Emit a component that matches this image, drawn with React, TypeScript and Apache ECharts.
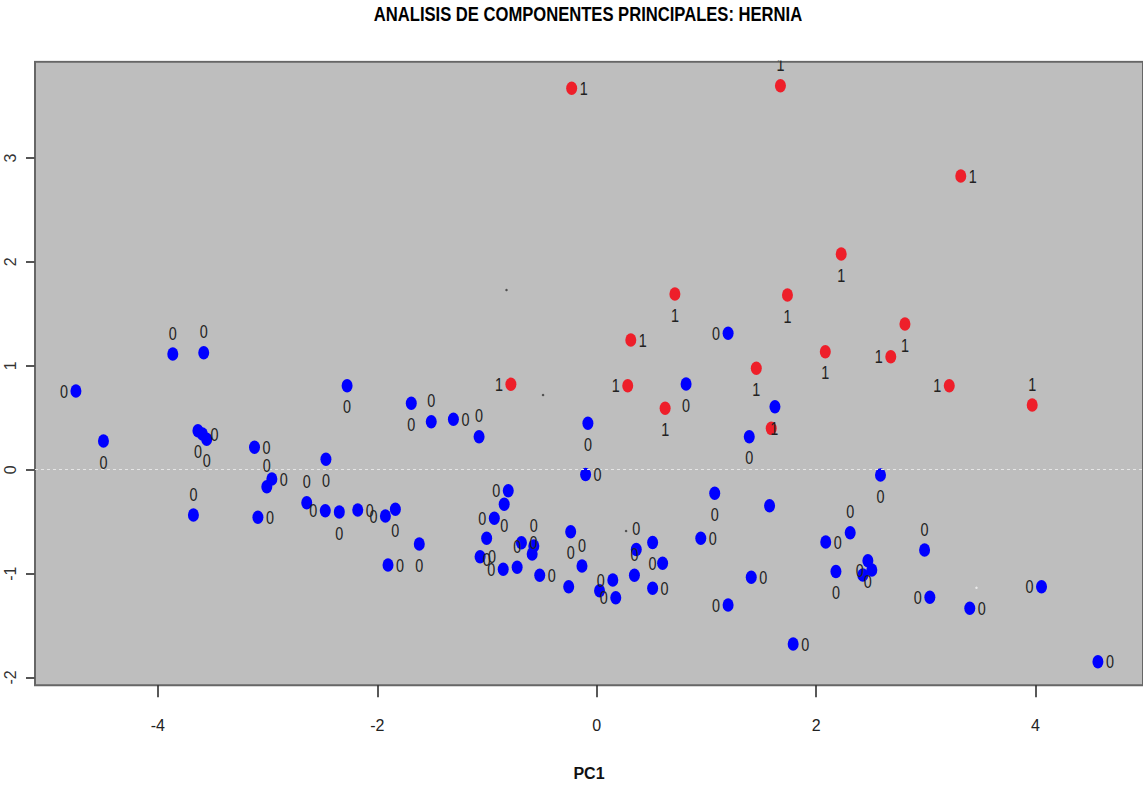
import React, { useEffect, useRef } from "react";
import * as echarts from "echarts";

const TITLE = "ANALISIS DE COMPONENTES PRINCIPALES: HERNIA";
const X_NAME = "PC1";
const X_TICKS = [-4, -2, 0, 2, 4];
const Y_TICKS = [-2, -1, 0, 1, 2, 3];
const X_MIN = -5.12;
const X_MAX = 4.98;
const Y_MIN = -2.075;
const Y_MAX = 3.927;

// class 0 (blue)
const blueX = [
  -4.747, -4.496, -3.864, -3.582, -3.635, -3.594, -3.555, -3.676, -3.119, -2.961,
  -3.007, -3.088, -2.643, -2.474, -2.468, -2.346, -2.178, -1.926, -1.835, -1.617,
  -1.902, -2.275, -1.69, -1.508, -1.306, -1.072, -0.806, -0.843, -0.933, -1.003,
  -1.063, -0.852, -0.725, -0.686, -0.573, -0.588, -0.519, -0.237, -0.134, -0.255,
  -0.101, -0.08, 0.147, 0.026, 0.174, 0.361, 0.344, 0.51, 0.601, 0.51,
  0.949, 1.076, 1.198, 1.409, 1.391, 1.576, 1.625, 1.791, 2.088, 2.311,
  2.181, 2.587, 2.472, 2.508, 2.426, 2.989, 3.037, 3.401, 4.055, 4.569,
  0.815, 1.198,
];
const blueY = [
  0.757, 0.276, 1.114, 1.126, 0.375, 0.344, 0.293, -0.436, 0.216, -0.09,
  -0.164, -0.458, -0.318, -0.395, 0.1, -0.407, -0.388, -0.446, -0.381, -0.715,
  -0.917, 0.808, 0.639, 0.462, 0.485, 0.318, -0.202, -0.333, -0.468, -0.66,
  -0.837, -0.959, -0.939, -0.703, -0.734, -0.811, -1.016, -0.597, -0.927, -1.126,
  -0.046, 0.447, -1.062, -1.165, -1.232, -0.768, -1.016, -0.701, -0.901, -1.141,
  -0.66, -0.227, -1.302, -1.036, 0.318, -0.346, 0.606, -1.678, -0.696, -0.606,
  -0.98, -0.051, -0.876, -0.965, -1.013, -0.773, -1.228, -1.334, -1.126, -1.848,
  0.825, 1.313,
];
const blueSide = [
  "left", "bottom", "top", "top", "bottom", "right", "bottom", "top", "right", "right",
  "top", "right", "top", "left", "bottom", "bottom", "right", "left", "bottom", "bottom",
  "right", "bottom", "bottom", "top", "right", "top", "left", "bottom", "left", "bottom",
  "right", "left", "top", "right", "top", "none", "right", "bottom", "top", "none",
  "right", "bottom", "left", "none", "left", "top", "top", "bottom", "none", "right",
  "right", "bottom", "left", "right", "bottom", "none", "none", "right", "right", "top",
  "bottom", "bottom", "bottom", "left", "none", "top", "left", "right", "left", "right",
  "bottom", "left",
];

// class 1 (red)
const redX = [
  -0.228, 1.675, 3.319, 2.229, 0.713, 1.739, 2.81, 0.311, 2.084, 2.681,
  1.455, -0.782, 0.283, 3.214, 3.97, 0.624, 1.591,
];
const redY = [
  3.671, 3.696, 2.827, 2.076, 1.691, 1.681, 1.402, 1.248, 1.136, 1.088,
  0.976, 0.822, 0.808, 0.808, 0.623, 0.591, 0.398,
];
const redSide = [
  "right", "top", "right", "bottom", "bottom", "bottom", "bottom", "right", "bottom", "left",
  "bottom", "left", "left", "left", "top", "bottom", "inside",
];

// tiny stray marks
const darkDotX = [-0.822, -0.489, 0.268];
const darkDotY = [1.73, 0.719, -0.59];
const lightDotX = [3.462];
const lightDotY = [-1.136];

const FONT = "'Liberation Sans', Arial, sans-serif";
const ELLIPSE = "path://M0,6.5A5.5,6.5 0 1 1 11,6.5A5.5,6.5 0 1 1 0,6.5Z";
const SIDE_OFFSET: Record<string, [number, number]> = {
  left: [-12, 0],
  right: [12, 0],
  top: [0, -21],
  bottom: [0, 21],
  inside: [3, 0],
};

export default function App() {
  const ref = useRef<HTMLDivElement>(null);
  useEffect(() => {
    if (!ref.current) return;
    const chart = echarts.init(ref.current, null, { renderer: "svg" });

    const labelItems: { value: number[]; txt: string; side: string }[] = [];
    blueX.forEach((x, i) => {
      if (blueSide[i] !== "none") labelItems.push({ value: [x, blueY[i]], txt: "0", side: blueSide[i] });
    });
    redX.forEach((x, i) => {
      if (redSide[i] !== "none") labelItems.push({ value: [x, redY[i]], txt: "1", side: redSide[i] });
    });

    chart.setOption({
      animation: false,
      backgroundColor: "#ffffff",
      grid: {
        left: 35,
        right: -2,
        top: 61.7,
        bottom: 102.7,
        show: true,
        backgroundColor: "#bebebe",
        borderColor: "#666666",
        borderWidth: 2,
      },
      xAxis: {
        type: "value",
        min: X_MIN,
        max: X_MAX,
        name: X_NAME,
        nameLocation: "middle",
        nameGap: 80,
        nameTextStyle: { fontFamily: FONT, fontWeight: "bold", fontSize: 16, color: "#111" },
        axisLine: { show: false, onZero: false },
        splitLine: { show: false },
        axisTick: { show: true, customValues: X_TICKS, length: 12, lineStyle: { color: "#222", width: 1.5 } },
        axisLabel: { customValues: X_TICKS, margin: 32, fontFamily: FONT, fontSize: 16, color: "#222" },
      },
      yAxis: {
        type: "value",
        min: Y_MIN,
        max: Y_MAX,
        axisLine: { show: false, onZero: false },
        splitLine: { show: false },
        axisTick: { show: true, customValues: Y_TICKS, length: 9, lineStyle: { color: "#555", width: 2 } },
        axisLabel: { customValues: Y_TICKS, rotate: 90, margin: 17, fontFamily: FONT, fontSize: 16, color: "#333" },
      },
      graphic: [
        { type: "rect", shape: { x: 0, y: 0, width: 1143, height: 60.5 }, style: { fill: "#ffffff" }, z: 50, silent: true },
        {
          type: "text",
          x: 588,
          y: 14,
          z: 51,
          scaleX: 0.81,
          style: {
            text: TITLE,
            align: "center",
            verticalAlign: "middle",
            fontFamily: FONT,
            fontWeight: "bold",
            fontSize: 20.5,
            fill: "#000",
          },
        },
      ],
      series: [
        {
          type: "scatter",
          name: "ref",
          data: [],
          markLine: {
            silent: true,
            symbol: "none",
            label: { show: false },
            lineStyle: { color: "#e6e6e6", type: [3, 3], width: 1 },
            data: [{ yAxis: 0 }],
          },
        },
        {
          type: "scatter",
          name: "0",
          symbol: ELLIPSE,
          symbolSize: [11, 13.5],
          itemStyle: { color: "#0000ff", opacity: 1 },
          data: blueX.map((x, i) => [x, blueY[i]]),
        },
        {
          type: "scatter",
          name: "1",
          symbol: ELLIPSE,
          symbolSize: [11, 13.5],
          itemStyle: { color: "#ee1f2a", opacity: 1 },
          data: redX.map((x, i) => [x, redY[i]]),
        },
        {
          type: "scatter",
          name: "dots",
          symbolSize: 2.5,
          itemStyle: { color: "#333" },
          data: darkDotX.map((x, i) => [x, darkDotY[i]]),
        },
        {
          type: "scatter",
          name: "lightdots",
          symbolSize: 2.5,
          itemStyle: { color: "#f4f4f4" },
          data: lightDotX.map((x, i) => [x, lightDotY[i]]),
        },
        {
          type: "custom",
          name: "labels",
          coordinateSystem: "cartesian2d",
          clip: false,
          z: 5,
          encode: { x: 0, y: 1 },
          data: labelItems.map((d) => d.value),
          renderItem: (params: any, api: any) => {
            const item = labelItems[params.dataIndex];
            const p = api.coord([api.value(0), api.value(1)]);
            const off = SIDE_OFFSET[item.side] || [0, 0];
            return {
              type: "text",
              x: p[0] + off[0],
              y: p[1] + off[1],
              scaleX: 0.8,
              style: {
                text: item.txt,
                align: "center",
                verticalAlign: "middle",
                textAlign: "center",
                textVerticalAlign: "middle",
                fontFamily: FONT,
                fontSize: 18,
                fill: "#222",
              },
            };
          },
        },
      ],
    });
    return () => chart.dispose();
  }, []);
  return <div ref={ref} style={{ position: "fixed", left: 0, top: 0, width: 1143, height: 788 }} />;
}
